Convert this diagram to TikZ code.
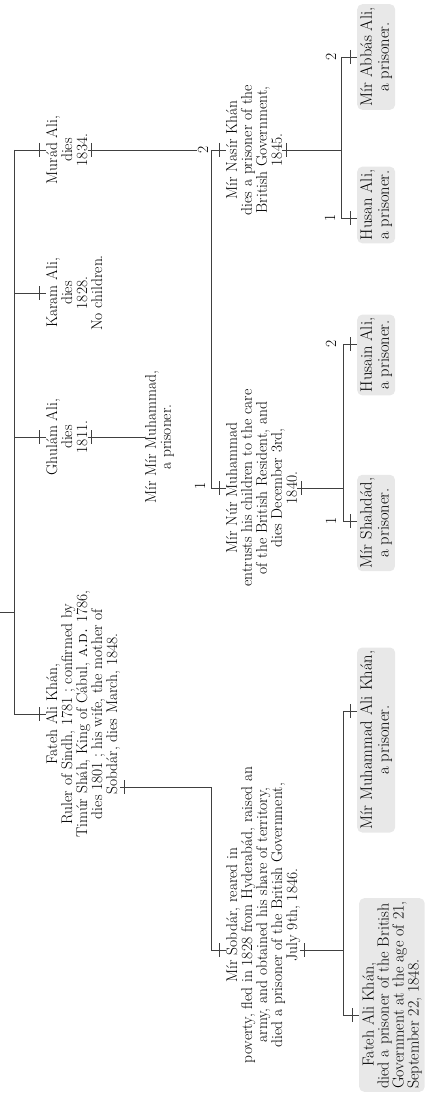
\documentclass[tikz,border=0pt]{standalone}
\usepackage{tikz}
\usetikzlibrary{positioning,calc}
\tikzset{
  person/.style={rotate=90, anchor=north, align=center, inner sep=0pt, font=\fontsize{15.5}{15}\selectfont},
  prisoner/.style={person, fill=black!9, rounded corners=5pt, inner sep=3pt, font=\fontsize{16.5}{17}\selectfont},
  num/.style={rotate=90, inner sep=1pt, font=\fontsize{15.5}{15}\selectfont},
  link/.style={draw=black!75, line width=0.8pt}
}
\newcommand{\stub}[2]{\draw[link] (#1) -- (#2); \draw[link] ($(#2)!7pt!(#1)$) ++(0,-7) -- ++(0,14);}
\newcommand{\descent}[2]{\draw[link] (#1) -- (#2); \draw[link] ($(#1)!4pt!(#2)$) ++(0,-7) -- ++(0,14);}

\begin{document}
\begin{tikzpicture}[x=1pt, y=-1pt]
\useasboundingbox (0,0) rectangle (425,1094);

% sons of Fateh Ali Khan
\node[person] (murad) at (46,150) {Murád Ali,\\dies\\1834.};
\node[person] (karam) at (46,293) {Karam Ali,\\dies\\1828.\\No children.};
\node[person] (ghulam) at (46,437) {Ghulám Ali,\\dies\\1811.};
\node[person] (fateh) at (46,714) {Fateh Ali Khán,\\Ruler of Sindh, 1781 ; confirmed by\\Timúr Sháh, King of Cábul, \textsc{a.d.} 1786,\\dies 1801 ; his wife, the mother of\\Sobdár, dies March, 1848.};

\coordinate (root) at (0,612);
\coordinate (b0-top) at (14,150);
\coordinate (b0-bot) at (b0-top |- fateh.north);
\draw[link] (root) -- (root -| b0-top);
\draw[link] (b0-top) -- (b0-bot);
\coordinate (b0-karam) at (b0-top |- karam.north);
\coordinate (b0-ghulam) at (b0-top |- ghulam.north);
\stub{b0-top}{murad.north}
\stub{b0-karam}{karam.north}
\stub{b0-ghulam}{ghulam.north}
\stub{b0-bot}{fateh.north}

% grandsons
\node[person] (mirmir) at (145,437) {Mír Mír Muhammad,\\a prisoner.};
\descent{ghulam.south}{mirmir.north}

\node[num] (m-two) at (203,150) {2};
\node[num] (m-one) at (200,486) {1};
\node[person] (nasir) at (226,150) {Mír Nasír Khán\\dies a prisoner of the\\British Government,\\1845.};
\node[person] (nur) at (226,488) {Mír Núr Muhammad\\entrusts his children to the care\\of the British Resident, and\\dies December 3rd,\\1840.};
\descent{murad.south}{m-two.north}
\coordinate (b1-top) at (211,150);
\coordinate (b1-bot) at (211,488);
\draw[link] (b1-top) -- (b1-bot);
\stub{b1-top}{nasir.north}
\stub{b1-bot}{nur.north}

\node[person] (sobdar) at (226,915) {Mír Sobdár, reared in\\poverty, fled in 1828 from Hyderabád, raised an\\army, and obtained his share of territory,\\died a prisoner of the British Government,\\July 9th, 1846.};
\coordinate (b2-top) at (211,787);
\coordinate (b2-bot) at (211,950);
\descent{fateh.south |- b2-top}{b2-top}
\draw[link] (b2-top) -- (b2-bot);
\coordinate (sobdar-in) at (sobdar.north |- b2-bot);
\stub{b2-bot}{sobdar-in}

% great-grandsons
\node[prisoner] (abbas) at (357,57) {Mír Abbás Ali,\\a prisoner.};
\node[prisoner] (husan) at (357,205) {Husan Ali,\\a prisoner.};
\node[num] (na-two) at (331,57) {2};
\node[num] (na-one) at (330,218) {1};
\coordinate (b3-top) at (341,57);
\coordinate (b3-bot) at (341,218);
\draw[link] (b3-top) -- (b3-bot);
\descent{nasir.south}{nasir.south -| b3-top}
\coordinate (husan-in) at (husan.north |- b3-bot);
\stub{b3-top}{abbas.north}
\stub{b3-bot}{husan-in}

\node[prisoner] (husain) at (357,355) {Husain Ali,\\a prisoner.};
\node[prisoner] (shahdad) at (357,523) {Mír Shahdád,\\a prisoner.};
\node[num] (nu-two) at (331,344) {2};
\node[num] (nu-one) at (331,521) {1};
\coordinate (b4-top) at (343,344);
\coordinate (b4-bot) at (343,521);
\draw[link] (b4-top) -- (b4-bot);
\descent{nur.south}{nur.south -| b4-top}
\coordinate (husain-in) at (husain.north |- b4-top);
\coordinate (shahdad-in) at (shahdad.north |- b4-bot);
\stub{b4-top}{husain-in}
\stub{b4-bot}{shahdad-in}

\node[prisoner] (mak) at (357,740) {Mír Muhammad Ali Khán,\\a prisoner.};
\node[prisoner, anchor=north west, align=left, font=\fontsize{16}{15}\selectfont] (fak) at (359,1092) {\hspace*{1.4em}Fateh Ali Khán,\\died a prisoner of the British\\Government at the age of 21,\\September 22, 1848.};
\coordinate (b5-top) at (343,711);
\coordinate (b5-join) at (343,950);
\coordinate (b5-bot) at (343,1015);
\draw[link] (b5-top) -- (b5-bot);
\descent{sobdar.south |- b5-join}{b5-join}
\coordinate (mak-in) at (mak.north |- b5-top);
\coordinate (fak-in) at (fak.north |- b5-bot);
\stub{b5-top}{mak-in}
\stub{b5-bot}{fak-in}

\end{tikzpicture}
\end{document}
